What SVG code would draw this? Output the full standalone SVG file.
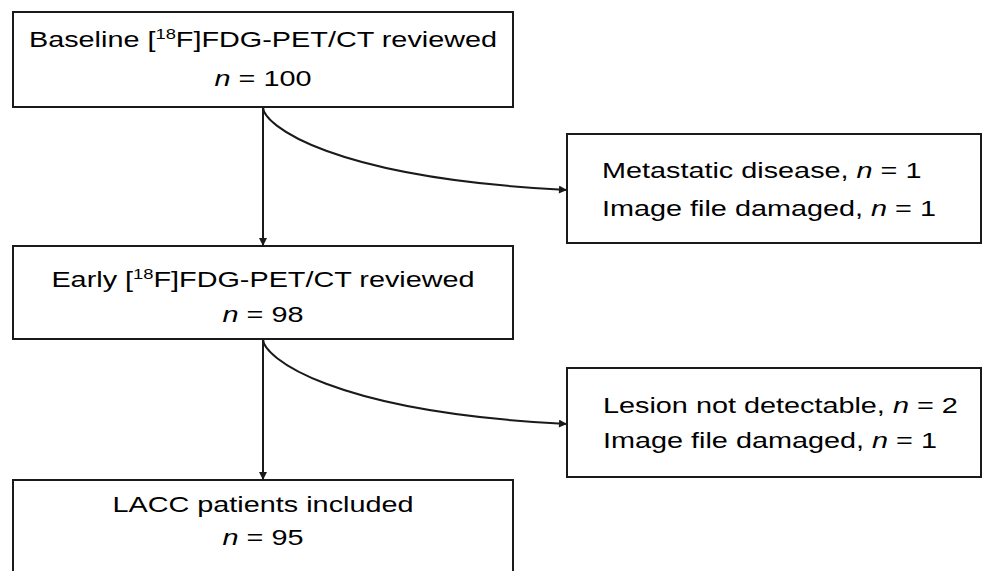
<svg xmlns="http://www.w3.org/2000/svg" width="982" height="571" viewBox="0 0 982 571">
  <style>
    .box { fill: #ffffff; stroke: #1a1a1a; stroke-width: 2; }
    .label { font-family: "Liberation Sans", Arial, sans-serif; font-size: 22px; fill: #000000; }
    .mid { text-anchor: middle; }
    .edge { fill: none; stroke: #1a1a1a; stroke-width: 2; }
    .sup { font-size: 14px; }
  </style>
  <defs>
    <marker id="arrow" viewBox="0 0 10 10" refX="10" refY="5" markerWidth="9" markerHeight="8" markerUnits="userSpaceOnUse" orient="auto">
      <path d="M0,0 L10,5 L0,10 Z" fill="#1a1a1a"/>
    </marker>
  </defs>
  <rect width="982" height="571" fill="#ffffff"/>

  <g id="connectors">
    <line class="edge" x1="263" y1="107" x2="263" y2="246" marker-end="url(#arrow)"/>
    <path class="edge" d="M263,107 C263,125 330,178 567,190" marker-end="url(#arrow)"/>
    <line class="edge" x1="263" y1="339" x2="263" y2="480" marker-end="url(#arrow)"/>
    <path class="edge" d="M263,339 C263,357 330,412 567,424" marker-end="url(#arrow)"/>
  </g>

  <!-- labels are set in a horizontally widened face (x scale 1.31) -->
  <g id="baseline">
    <rect class="box" x="13" y="12" width="500" height="95"/>
    <text class="label mid" transform="translate(263,47) scale(1.31,1)">Baseline [<tspan class="sup" dy="-8">18</tspan><tspan dy="8">F]FDG-PET/CT reviewed</tspan></text>
    <text class="label mid" transform="translate(263,86) scale(1.31,1)"><tspan font-style="italic">n</tspan> = 100</text>
  </g>

  <g id="excluded-baseline">
    <rect class="box" x="567" y="134" width="414" height="109"/>
    <text class="label" transform="translate(602,178) scale(1.31,1)">Metastatic disease, <tspan font-style="italic">n</tspan> = 1</text>
    <text class="label" transform="translate(602,216) scale(1.31,1)">Image file damaged, <tspan font-style="italic">n</tspan> = 1</text>
  </g>

  <g id="early">
    <rect class="box" x="13" y="246" width="500" height="93"/>
    <text class="label mid" transform="translate(263,287) scale(1.31,1)">Early [<tspan class="sup" dy="-8">18</tspan><tspan dy="8">F]FDG-PET/CT reviewed</tspan></text>
    <text class="label mid" transform="translate(263,322) scale(1.31,1)"><tspan font-style="italic">n</tspan> = 98</text>
  </g>

  <g id="excluded-early">
    <rect class="box" x="567" y="368" width="414" height="109"/>
    <text class="label" transform="translate(603,413) scale(1.31,1)">Lesion not detectable, <tspan font-style="italic">n</tspan> = 2</text>
    <text class="label" transform="translate(603,448) scale(1.31,1)">Image file damaged, <tspan font-style="italic">n</tspan> = 1</text>
  </g>

  <g id="included">
    <rect class="box" x="13" y="480" width="500" height="100"/>
    <text class="label mid" transform="translate(263,512) scale(1.31,1)">LACC patients included</text>
    <text class="label mid" transform="translate(263,545) scale(1.31,1)"><tspan font-style="italic">n</tspan> = 95</text>
  </g>
</svg>
